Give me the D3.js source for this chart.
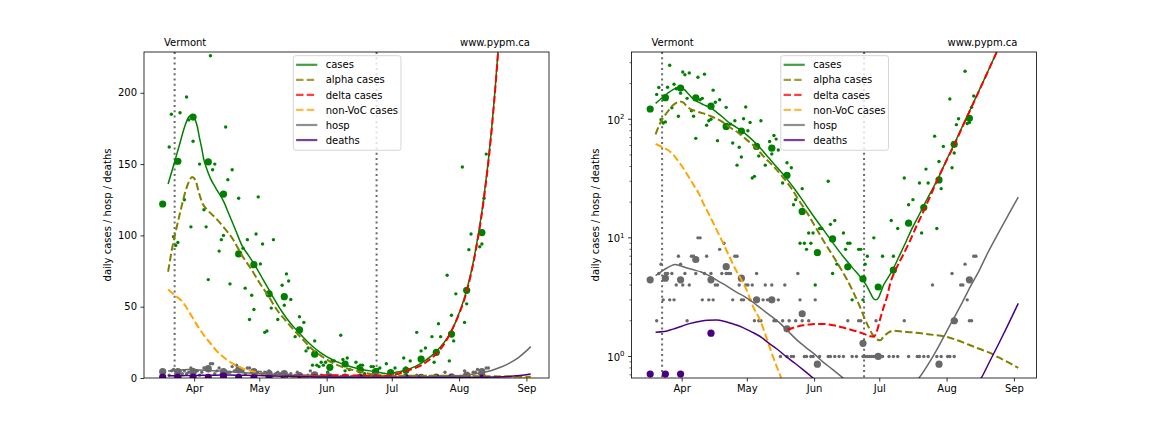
<!DOCTYPE html>
<html><head><meta charset="utf-8">
<script src="https://cdn.jsdelivr.net/npm/d3@7"></script>
<style>body{margin:0;background:#fff}svg{display:block;font-family:"DejaVu Sans",sans-serif}</style>
</head><body><svg id="c" width="1152" height="432"></svg>
<script>
// ---------------- data ----------------
const region = "Vermont";
const source = "www.pypm.ca";
const yLabel = "daily cases / hosp / deaths";
const linTicks = [0, 50, 100, 150, 200];
const logMajorTicks = [1, 10, 100];
const markerDates = ["2021-03-23", "2021-06-24"];
const legendLabels = ["cases", "alpha cases", "delta cases", "non-VoC cases", "hosp", "deaths"];

// daily observations (one value per day from dailyStart; null = no point)
const dailyStart = "2021-03-20";
const dailyCases = [
  162,185,99,93,95,186,285,125,197,181,
  106,166,250,237,150,246,118,106,69,226,
  146,150,240,89,97,100,176,139,66,146,
  null,null,126,null,91,63,97,41,58,48,
  101,127,80,94,32,33,null,49,97,null,
  41,null,65,51,73,68,55,null,29,null,
  43,null,39,19,21,null,9,26,9,8,
  11,9,11,4,null,12,12,null,null,30,
  13,5,14,6,null,null,11,8,9,9,
  3,null,null,8,8,3,6,7,null,null,
  10,null,null,null,7,null,null,null,14,7,
  null,12,null,null,32,null,19,null,21,null,
  null,29,11,null,38,29,null,null,72,12,
  44,26,59,null,null,148,39,52,90,101,
  null,null,254,92,94,126,157
];
const dailyHosp = [
  2,5,6,3,5,5,3,5,
  3,4,7,6,4,5,2,
  4,7,7,5,10,10,3,
  5,7,3,5,3,4,4,
  8,5,9,5,5,5,3,
  7,7,4,3,3,4,4,
  3,4,2,5,2,2,3,
  4,3,3,4,2,2,3,
  1,2,4,1,2,1,1,
  2,5,3,2,1,1,2,
  1,1,3,0,1,0,0,
  0,1,1,0,1,0,1,
  0,1,0,2,0,1,0,
  1,2,2,1,1,1,1,
  1,1,2,1,1,1,0,
  0,1,0,1,0,1,0,
  0,2,0,1,0,0,0,
  1,1,0,1,0,1,0,
  4,0,1,0,1,0,0,
  1,1,5,1,2,0,4,
  4,6,3,2,2,7,7
];

// weekly averages (one value per week from weeklyStart)
const weeklyStart = "2021-03-17";
const weeklyCases  = [122,152,183,151.5,129,87,79.5,59,57,33.7,16.7,7.5,9.8,5.7,4.5,3.85,5.35,13.3,18,30.8,61.5,102];
const weeklyHosp   = [4.43,4.57,4.43,6.57,4.43,5.71,4.57,3,3,1.71,2.29,0.86,0.57,0.57,1.29,1,0.43,0.43,0.57,0.86,2,4.43];
const weeklyDeaths = [0.71,0.71,0.71,0.43,1.57,0.43,0.14,0.14,0.14,0,0.14,0,0,0,0,0,0,0,0,0,0,0];

// model curves: day offsets from modelOrigin and values
const modelOrigin = "2021-04-01";
const casesDays = [-12,-9.5,-6.5,-4,-2.5,-1,0.5,1.5,2.5,3.5,4.5,5.5,7.5,10,13.5,16,19,22,25,28,31,34,37,40,43,46,49,52,55,58,61,64,67,70,73,76,79,82,85,87,88.5,89.5,90.5,91.5,93,95,97,100,103,106,109,112,115,118,122,125,129,133,137,141,145,149,153,155];
const casesModel = [136,149,165,178,183,184.5,181,176,168,161,153,148,140,133,124,115,104,93,86,79,71,63,55,47.5,41,35.5,30.5,25.8,21.6,18,15,12.6,10.6,8.9,7.5,6.4,5.5,4.75,4.0,3.4,3.05,3.0,3.1,3.4,4.0,4.6,5.3,6.9,9.0,11.9,15.2,19.5,24.8,31.5,45.5,59,85,122,175,253,366,527,761,900];
const alphaDays = [-12,-10,-8,-6,-4,-2,-1,0,1,2,3,4,6,10,14,18,22,26,30,34,38,42,46,50,54,58,62,66,70,73,76,79,82,84,86,88,90,91.5,93,95,97.5,102,106,110,116,122,127,132,137,142,146,150,155];
const alphaModel = [74.5,92,106,119,131,139,141,140,137,131,126,122,118,112,105,97,86,77,67,58,48,40.5,33.5,27,20.7,16,12,9.0,6.9,5.6,4.5,3.5,2.65,2.15,1.78,1.52,1.39,1.37,1.47,1.58,1.65,1.62,1.6,1.57,1.52,1.46,1.37,1.26,1.16,1.07,0.98,0.9,0.8];
const deltaDays = [48.5,52,56,60,65,70,75,80,84,87,88.5,90,91.5,93,94.5,96,99,102,105,108,111,115,118,122,125,129,133,137,141,145,149,153,155];
const deltaModel = [1.68,1.76,1.83,1.87,1.88,1.83,1.74,1.64,1.55,1.48,1.47,1.65,2.1,2.6,3.15,4.1,5.6,7.2,9.3,12.4,16.2,23.6,31.5,45,58,84,121,174,252,365,525,760,900];
const nonvocDays = [-12,-10,-8,-6,-4,-2,0,2,4,6,8,10,12,14,16,18,21,24,27,30,33,36,39,42,45,48,52,56,60,70,80,100,130,155];
const nonvocModel = [62,59.5,57,54.5,50.5,45.5,40.5,35.5,31,27,23.5,19.5,16.5,14,11.8,9.9,7.6,5.8,4.6,3.6,2.6,2.05,1.45,1.0,0.72,0.52,0.33,0.2,0.12,0.04,0.015,0.002,0.0002,0.00003];
const hospDays = [-12,-8,-5,-3,-1,2,5,9,13,17,21,25,29,33,37,41,45,49,53,57,61,65,69,73,77,81,85,89,93,97,101,105,109,113,117,121,125,129,133,137,141,145,149,153,155];
const hospModel = [4.8,5.4,5.8,5.95,5.85,5.6,5.4,5.15,4.75,4.3,3.9,3.5,3.2,2.85,2.5,2.2,1.93,1.63,1.38,1.2,1.05,0.9,0.79,0.69,0.6,0.53,0.49,0.47,0.47,0.49,0.52,0.57,0.65,0.83,1.1,1.5,2.05,2.8,3.9,5.3,7.5,10.3,14,19,22];
const deathDays = [-12,-8,-4,0,4,8,12,16,20,24,28,32,36,40,44,48,52,56,60,65,70,80,90,100,110,120,126,130,134,138,142,146,150,155];
const deathModel = [1.6,1.62,1.7,1.8,1.9,1.97,2.02,2.03,1.97,1.87,1.76,1.62,1.48,1.3,1.15,1.0,0.88,0.77,0.67,0.56,0.48,0.38,0.33,0.3,0.28,0.3,0.35,0.42,0.52,0.66,0.92,1.28,1.8,2.8];

// ---------------- drawing ----------------
const DAY = 864e5;
const t0 = Date.parse(modelOrigin + "T00:00:00Z");
const dT0 = Date.parse(dailyStart + "T12:00:00Z");
const wT0 = Date.parse(weeklyStart + "T12:00:00Z");
const xDomain = [new Date(Date.UTC(2021, 2, 8, 21, 36)), new Date(Date.UTC(2021, 8, 11, 9, 36))];

const models = [
  {days: casesDays, vals: casesModel, color: "green", w: 1.5, dash: null},
  {days: alphaDays, vals: alphaModel, color: "olive", w: 2, dash: "7.4,3.2"},
  {days: deltaDays, vals: deltaModel, color: "red", w: 2, dash: "7.4,3.2"},
  {days: nonvocDays, vals: nonvocModel, color: "orange", w: 2, dash: "7.4,3.2"},
  {days: hospDays, vals: hospModel, color: "dimgrey", w: 1.5, dash: null},
  {days: deathDays, vals: deathModel, color: "indigo", w: 1.5, dash: null}
];

const svg = d3.select("#c");
svg.append("rect").attr("width", 1152).attr("height", 432).attr("fill", "#fff");
const W = 405, TOP = 52, BOT = 378;
const panels = [{left: 144, log: false}, {left: 631.5, log: true}];

panels.forEach((p, i) => {
  const x = d3.scaleUtc().domain(xDomain).range([p.left, p.left + W]);
  const y = p.log ? d3.scaleLog().domain([0.658, 369]).range([BOT, TOP])
                  : d3.scaleLinear().domain([0, 228.6]).range([BOT, TOP]);
  const ok = v => v != null && (!p.log || v > 0);
  const g = svg.append("g");
  const cid = "clip" + i;
  svg.append("clipPath").attr("id", cid).append("rect")
    .attr("x", p.left).attr("y", TOP).attr("width", W).attr("height", BOT - TOP);
  const plot = g.append("g").attr("clip-path", `url(#${cid})`);

  // vertical reference lines
  markerDates.forEach(md => {
    const xx = x(new Date(md + "T00:00:00Z"));
    plot.append("line").attr("x1", xx).attr("x2", xx).attr("y1", TOP).attr("y2", BOT)
      .attr("stroke", "#6a6a6a").attr("stroke-width", 2).attr("stroke-dasharray", "2,3.3");
  });

  // daily dots
  const daily = (arr, color) => plot.append("g").selectAll("circle")
    .data(arr.map((v, k) => ({t: new Date(dT0 + k * DAY), v})).filter(d => ok(d.v)))
    .join("circle").attr("cx", d => x(d.t)).attr("cy", d => y(d.v)).attr("r", 1.7).attr("fill", color);
  daily(dailyCases, "green");
  daily(dailyHosp, "dimgrey");

  // weekly dots
  const weekly = (arr, color) => plot.append("g").selectAll("circle")
    .data(arr.map((v, k) => ({t: new Date(wT0 + k * 7 * DAY), v})).filter(d => ok(d.v)))
    .join("circle").attr("cx", d => x(d.t)).attr("cy", d => y(d.v)).attr("r", 3.6).attr("fill", color);
  weekly(weeklyCases, "green");
  weekly(weeklyHosp, "dimgrey");
  weekly(weeklyDeaths, "indigo");

  // model lines
  const line = d3.line().x(d => x(d.t)).y(d => y(d.v)).curve(d3.curveMonotoneX);
  models.forEach(m => {
    const pts = m.days.map((d, k) => ({t: new Date(t0 + d * DAY), v: m.vals[k]}));
    plot.append("path").attr("d", line(pts)).attr("fill", "none")
      .attr("stroke", m.color).attr("stroke-width", m.w)
      .attr("stroke-dasharray", m.dash);
  });

  // frame
  g.append("rect").attr("x", p.left).attr("y", TOP).attr("width", W).attr("height", BOT - TOP)
    .attr("fill", "none").attr("stroke", "#000").attr("stroke-width", 0.8);

  // x axis
  const xa = g.append("g").attr("transform", `translate(0,${BOT})`)
    .call(d3.axisBottom(x).ticks(d3.utcMonth.every(1)).tickFormat(d3.utcFormat("%b"))
      .tickSize(3.5).tickSizeOuter(0).tickPadding(3.5));
  xa.select(".domain").remove();
  xa.selectAll("line").attr("stroke", "#000").attr("stroke-width", 0.8);
  xa.selectAll("text").attr("font-size", "10px").attr("font-family", "DejaVu Sans").attr("fill", "#000");

  // y axis
  if (!p.log) {
    const ya = g.append("g").attr("transform", `translate(${p.left},0)`)
      .call(d3.axisLeft(y).tickValues(linTicks).tickSize(3.5).tickSizeOuter(0).tickPadding(3.5));
    ya.select(".domain").remove();
    ya.selectAll("line").attr("stroke", "#000").attr("stroke-width", 0.8);
    ya.selectAll("text").attr("font-size", "10px").attr("font-family", "DejaVu Sans").attr("fill", "#000");
  } else {
    const minor = [];
    [0.1, 1, 10, 100].forEach(b => { for (let k = 2; k <= 9; k++) { const v = b * k; if (v >= 0.658 && v <= 369) minor.push(v); } });
    g.selectAll(".minor").data(minor).join("line")
      .attr("x1", p.left - 2).attr("x2", p.left).attr("y1", d => y(d)).attr("y2", d => y(d))
      .attr("stroke", "#000").attr("stroke-width", 0.6);
    logMajorTicks.forEach(v => {
      const yy = y(v);
      g.append("line").attr("x1", p.left - 3.5).attr("x2", p.left).attr("y1", yy).attr("y2", yy)
        .attr("stroke", "#000").attr("stroke-width", 0.8);
      const t = g.append("text").attr("x", p.left - 7).attr("y", yy + 4.5)
        .attr("text-anchor", "end").attr("font-size", "10px").attr("fill", "#000");
      t.append("tspan").text("10");
      t.append("tspan").attr("dy", -4.5).attr("font-size", "7px").text(String(Math.round(Math.log10(v))));
    });
  }

  // y label
  g.append("text").attr("transform", `translate(${p.left - 33},${(TOP + BOT) / 2}) rotate(-90)`)
    .attr("text-anchor", "middle").attr("font-size", "10px").attr("fill", "#000").text(yLabel);

  // titles
  g.append("text").attr("x", p.left + 20).attr("y", 45.7).attr("font-size", "10px").attr("fill", "#000").text(region);
  g.append("text").attr("x", p.left + 316).attr("y", 45.7).attr("font-size", "10px").attr("fill", "#000").text(source);

  // legend
  const lx = p.left + 149.3, ly = 55.7;
  const lg = g.append("g");
  lg.append("rect").attr("x", lx).attr("y", ly).attr("width", 107.7).attr("height", 94.6).attr("rx", 2.5)
    .attr("fill", "#fff").attr("fill-opacity", 0.8).attr("stroke", "#cccccc").attr("stroke-width", 0.8);
  legendLabels.forEach((lab, k) => {
    const m = models[k];
    const yc = 64.8 + 15.05 * k;
    lg.append("line").attr("x1", lx + 2.8).attr("x2", lx + 24).attr("y1", yc).attr("y2", yc)
      .attr("stroke", m.color).attr("stroke-width", 2.2).attr("stroke-opacity", 0.75)
      .attr("stroke-dasharray", m.dash);
    lg.append("text").attr("x", lx + 32.4).attr("y", yc + 3.6).attr("font-size", "10px").attr("fill", "#000").text(lab);
  });
});
</script></body></html>
